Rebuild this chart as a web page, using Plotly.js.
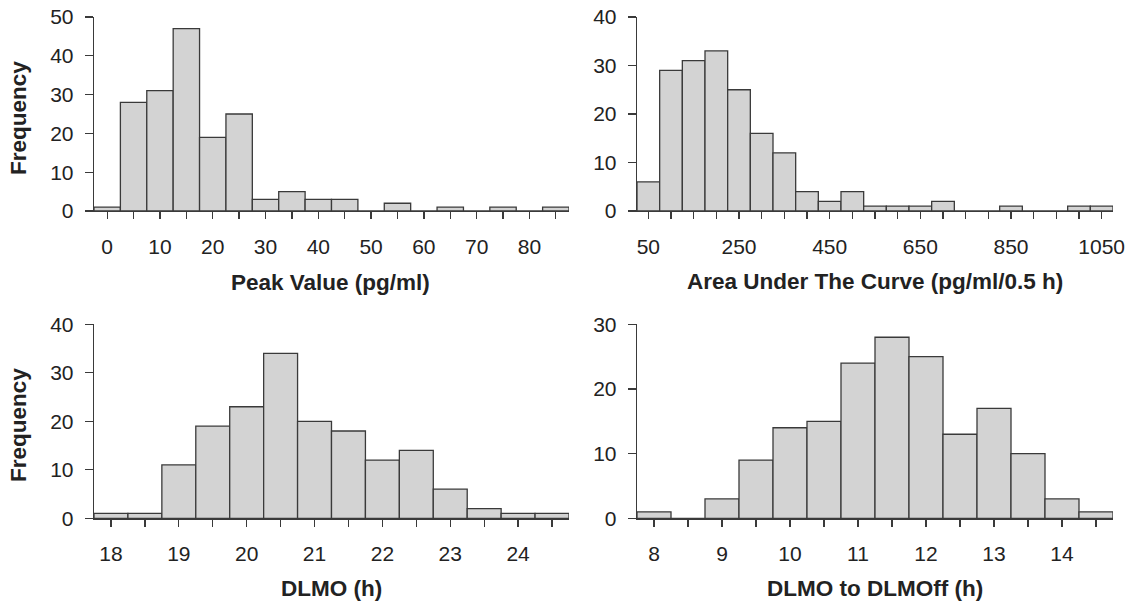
<!DOCTYPE html>
<html><head><meta charset="utf-8">
<script src="https://cdn.plot.ly/plotly-3.0.1.min.js"></script>
<style>html,body{margin:0;padding:0;background:#fff}#chart{width:1127px;height:602px}</style>
</head><body><div id="chart"></div>
<script>
// Peak Value (pg/ml), bins of width 5
const peakBins   = [0, 5, 10, 15, 20, 25, 30, 35, 40, 45, 50, 55, 60, 65, 70, 75, 80, 85];
const peakCounts = [1, 28, 31, 47, 19, 25, 3, 5, 3, 3, 0, 2, 0, 1, 0, 1, 0, 1];
const peakTicks  = [0, 10, 20, 30, 40, 50, 60, 70, 80];

// Area Under The Curve (pg/ml/0.5 h), bins of width 50
const aucBins   = [50, 100, 150, 200, 250, 300, 350, 400, 450, 500, 550, 600, 650, 700, 750, 800, 850, 900, 950, 1000, 1050];
const aucCounts = [6, 29, 31, 33, 25, 16, 12, 4, 2, 4, 1, 1, 1, 2, 0, 0, 1, 0, 0, 1, 1];
const aucTicks  = [50, 250, 450, 650, 850, 1050];

// DLMO (h), bins of width 0.5
const dlmoBins   = [18, 18.5, 19, 19.5, 20, 20.5, 21, 21.5, 22, 22.5, 23, 23.5, 24, 24.5];
const dlmoCounts = [1, 1, 11, 19, 23, 34, 20, 18, 12, 14, 6, 2, 1, 1];
const dlmoTicks  = [18, 19, 20, 21, 22, 23, 24];

// DLMO to DLMOff (h), bins of width 0.5
const durBins   = [8, 8.5, 9, 9.5, 10, 10.5, 11, 11.5, 12, 12.5, 13, 13.5, 14, 14.5];
const durCounts = [1, 0, 3, 9, 14, 15, 24, 28, 25, 13, 17, 10, 3, 1];
const durTicks  = [8, 9, 10, 11, 12, 13, 14];

const W = 1127, H = 602;
const fx = p => p / W;
const fy = p => 1 - p / H;

const FONT = 'Liberation Sans, Arial, Helvetica, sans-serif';
const INK = '#3a3a3a';
const TXT = '#222222';
const FILL = '#d3d3d3';

function bars(x, y, width, xa, ya) {
  return {
    type: 'bar', x: x, y: y, width: width, xaxis: xa, yaxis: ya,
    marker: {color: FILL, line: {color: INK, width: 1.3}},
    cliponaxis: false, hoverinfo: 'x+y', showlegend: false
  };
}

function xAxis(domain, range, ticks, minorDt, minorT0, anchor) {
  return {
    domain: domain, range: range, anchor: anchor,
    showline: true, linecolor: INK, linewidth: 1.3,
    showgrid: false, zeroline: false,
    tickmode: 'array', tickvals: ticks, ticktext: ticks.map(String),
    ticks: 'outside', ticklen: 7, tickwidth: 1.3, tickcolor: INK,
    ticklabelstandoff: 9,
    minor: {ticks: 'outside', ticklen: 7, tickwidth: 1.3, tickcolor: INK, dtick: minorDt, tick0: minorT0, showgrid: false},
    tickfont: {family: FONT, size: 21, color: TXT},
    fixedrange: true
  };
}

function yAxis(domain, max, anchor) {
  return {
    domain: domain, range: [0, max], anchor: anchor,
    showline: true, linecolor: INK, linewidth: 1.3,
    showgrid: false, zeroline: false,
    tickmode: 'linear', tick0: 0, dtick: 10,
    ticks: 'outside', ticklen: 8, tickwidth: 1.3, tickcolor: INK,
    ticklabelstandoff: 7,
    tickfont: {family: FONT, size: 21, color: TXT},
    fixedrange: true
  };
}

const L = [fx(94), fx(569)];
const R = [fx(637), fx(1113)];
const T = [fy(211), fy(17)];
const B = [fy(518.3), fy(324.3)];

const data = [
  bars(peakBins, peakCounts, 5, 'x', 'y'),
  bars(aucBins, aucCounts, 50, 'x2', 'y2'),
  bars(dlmoBins, dlmoCounts, 0.5, 'x3', 'y3'),
  bars(durBins, durCounts, 0.5, 'x4', 'y4')
];

function ann(text, x, y, rot) {
  return {text: text, xref: 'paper', yref: 'paper', x: x, y: y,
          xanchor: 'center', yanchor: 'middle', showarrow: false, textangle: rot || 0,
          font: {family: FONT, size: 22.5, color: TXT, weight: 'bold'}};
}

const layout = {
  width: W, height: H,
  margin: {l: 0, r: 0, t: 0, b: 0},
  paper_bgcolor: '#ffffff', plot_bgcolor: '#ffffff',
  bargap: 0,
  xaxis:  xAxis(L, [-2.5, 87.5], peakTicks, 5, 0, 'y'),
  yaxis:  yAxis(T, 50, 'x'),
  xaxis2: xAxis(R, [25, 1075], aucTicks, 50, 50, 'y2'),
  yaxis2: yAxis(T, 40, 'x2'),
  xaxis3: xAxis(L, [17.75, 24.75], dlmoTicks, 0.5, 18, 'y3'),
  yaxis3: yAxis(B, 40, 'x3'),
  xaxis4: xAxis(R, [7.75, 14.75], durTicks, 0.5, 8, 'y4'),
  yaxis4: yAxis(B, 30, 'x4'),
  annotations: [
    ann('Peak Value (pg/ml)', fx(330), fy(282)),
    ann('Area Under The Curve (pg/ml/0.5 h)', fx(875), fy(281)),
    ann('DLMO (h)', fx(331), fy(588)),
    ann('DLMO to DLMOff (h)', fx(875), fy(588)),
    ann('Frequency', fx(18), fy(118), -90),
    ann('Frequency', fx(18), fy(425), -90)
  ]
};

Plotly.newPlot('chart', data, layout, {displayModeBar: false, staticPlot: true});
</script>
</body></html>
